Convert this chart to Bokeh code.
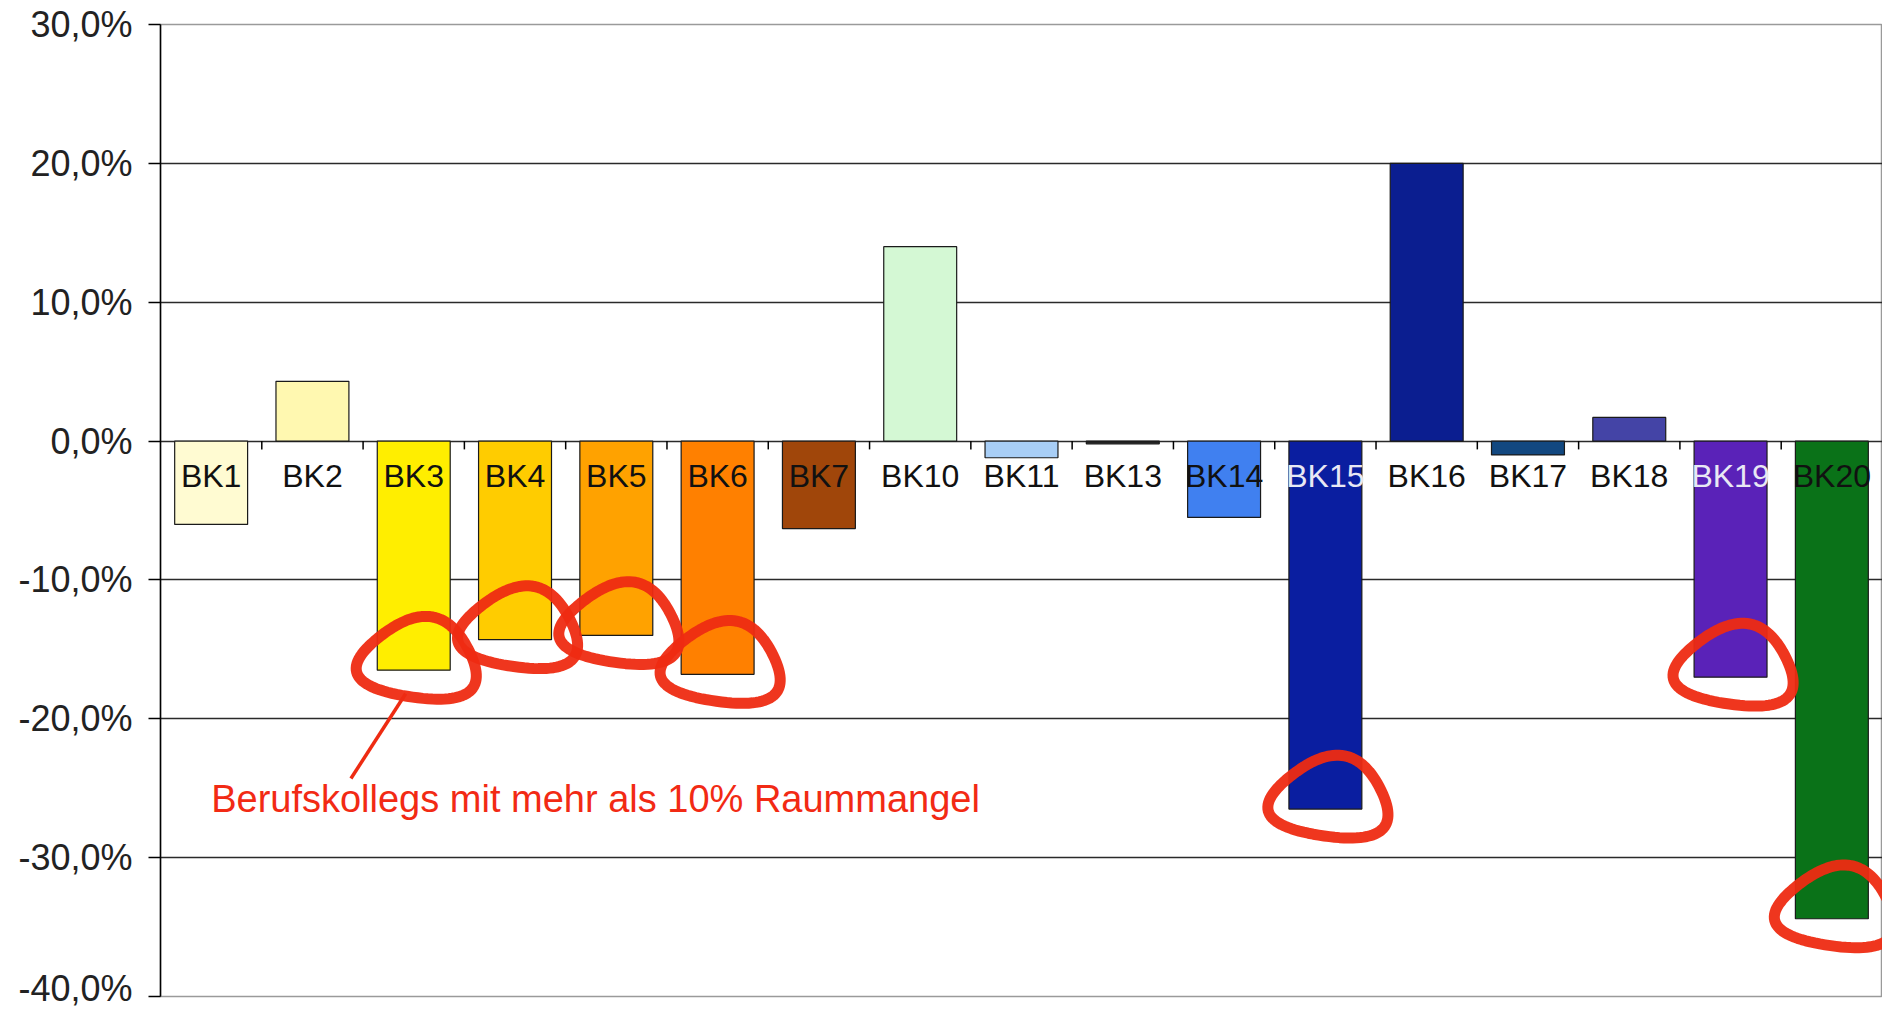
import numpy as np
from bokeh.plotting import figure
from bokeh.models import Range1d, FixedTicker
from bokeh.core.properties import value
from bokeh.embed import file_html
from bokeh.resources import INLINE

# ---------------- data ----------------
categories = ["BK1", "BK2", "BK3", "BK4", "BK5", "BK6", "BK7", "BK10", "BK11",
              "BK13", "BK14", "BK15", "BK16", "BK17", "BK18", "BK19", "BK20"]
values = [-6.0, 4.3, -16.5, -14.3, -14.0, -16.8, -6.3, 14.0, -1.2,
          -0.2, -5.5, -26.5, 20.0, -1.0, 1.7, -17.0, -34.4]
bar_colors = ["#FFFBD2", "#FFF8B0", "#FFEE00", "#FFCC00", "#FFA200", "#FF8000",
              "#A0460A", "#D4F8D4", "#A8CEF6", "#222222", "#4080F0", "#0A1EA0",
              "#0B1E90", "#124880", "#4444A6", "#5A22B8", "#0A7218"]
label_colors = ["#111111"] * 11 + ["#E8E8F4"] + ["#111111"] * 3 + ["#E8E8F4"] + ["#111111"]
y_ticks = [-40, -30, -20, -10, 0, 10, 20, 30]
y_tick_labels = ["-40,0%", "-30,0%", "-20,0%", "-10,0%", "0,0%", "10,0%", "20,0%", "30,0%"]
threshold = -10.0
annotation_text = "Berufskollegs mit mehr als 10% Raummangel"

RED = "#EE2B12"
FONT = "Liberation Sans"

W, H = 1882, 1008
BL, BR, BT, BB = 160, 0, 24, 12
Y0, Y1 = -40, 30

n = len(categories)
xs = [i + 0.5 for i in range(n)]

p = figure(width=W, height=H, x_range=Range1d(0, n), y_range=Range1d(Y0, Y1),
           output_backend="svg", toolbar_location=None, x_axis_location=None,
           min_border_left=BL, min_border_right=BR, min_border_top=BT, min_border_bottom=BB)
p.background_fill_color = "white"
p.border_fill_color = "white"
p.outline_line_color = "#9a9a9a"
p.outline_line_width = 1.5

# grid
p.xgrid.visible = False
p.ygrid.ticker = FixedTicker(ticks=[t for t in y_ticks if Y0 < t < Y1])
p.ygrid.grid_line_color = "#2a2a2a"
p.ygrid.grid_line_width = 1.5

# y axis
ax = p.yaxis[0]
ax.ticker = FixedTicker(ticks=y_ticks)
ax.major_label_overrides = {t: l for t, l in zip(y_ticks, y_tick_labels)}
ax.axis_line_color = "#000000"
ax.axis_line_width = 1.5
ax.major_tick_line_color = "#000000"
ax.major_tick_line_width = 1.5
ax.major_tick_out = 12
ax.major_tick_in = 0
ax.minor_tick_line_color = None
ax.major_label_text_font = FONT
ax.major_label_text_font_size = "36px"
ax.major_label_text_color = "#222222"
ax.major_label_standoff = 16

# bars
p.vbar(x=xs, top=values, bottom=0, width=0.72, fill_color=bar_colors,
       line_color="#1a1a1a", line_width=1.2)

# category boundary ticks on zero line
bounds = list(range(1, n))
p.segment(x0=bounds, y0=[0] * len(bounds), x1=bounds, y1=[-0.6] * len(bounds),
          line_color="#000000", line_width=1.5)

# category labels
p.text(x=xs, y=[-2.5] * n, text=categories, text_align="center",
       text_baseline="middle", text_font=value(FONT), text_font_size="32px",
       text_color=label_colors)

# red hand-drawn loops (rounded triangles) around strongly negative bars
ppx = (W - BL - BR) / n          # pixels per category
ppy = (H - BT - BB) / (Y1 - Y0)  # pixels per percent


def chaikin(pts, it=5):
    pts = np.asarray(pts, float)
    for _ in range(it):
        nxt = np.roll(pts, -1, axis=0)
        q = 0.75 * pts + 0.25 * nxt
        r = 0.25 * pts + 0.75 * nxt
        pts = np.empty((2 * len(q), 2))
        pts[0::2] = q
        pts[1::2] = r
    return np.vstack([pts, pts[:3]])


tri_px = [(25, -80), (-93, 13), (85, 40)]  # (dx right, dy down) in pixels
loop = chaikin(tri_px)
loop_xs, loop_ys = [], []
for x, v in zip(xs, values):
    if v < threshold:
        loop_xs.append(list(x + loop[:, 0] / ppx))
        loop_ys.append(list(v - loop[:, 1] / ppy))
p.multi_line(xs=loop_xs, ys=loop_ys, line_color=RED, line_width=11,
             line_alpha=0.95, line_join="round", line_cap="round")

# annotation
p.text(x=[0.5], y=[-25.8], text=[annotation_text], text_align="left",
       text_baseline="middle", text_font=value(FONT), text_font_size="38px",
       text_color="#F22A14")
p.line(x=[1.88, 2.42], y=[-24.3, -18.2], line_color=RED, line_width=3.5)

open("out.html", "w").write(file_html(p, INLINE))
